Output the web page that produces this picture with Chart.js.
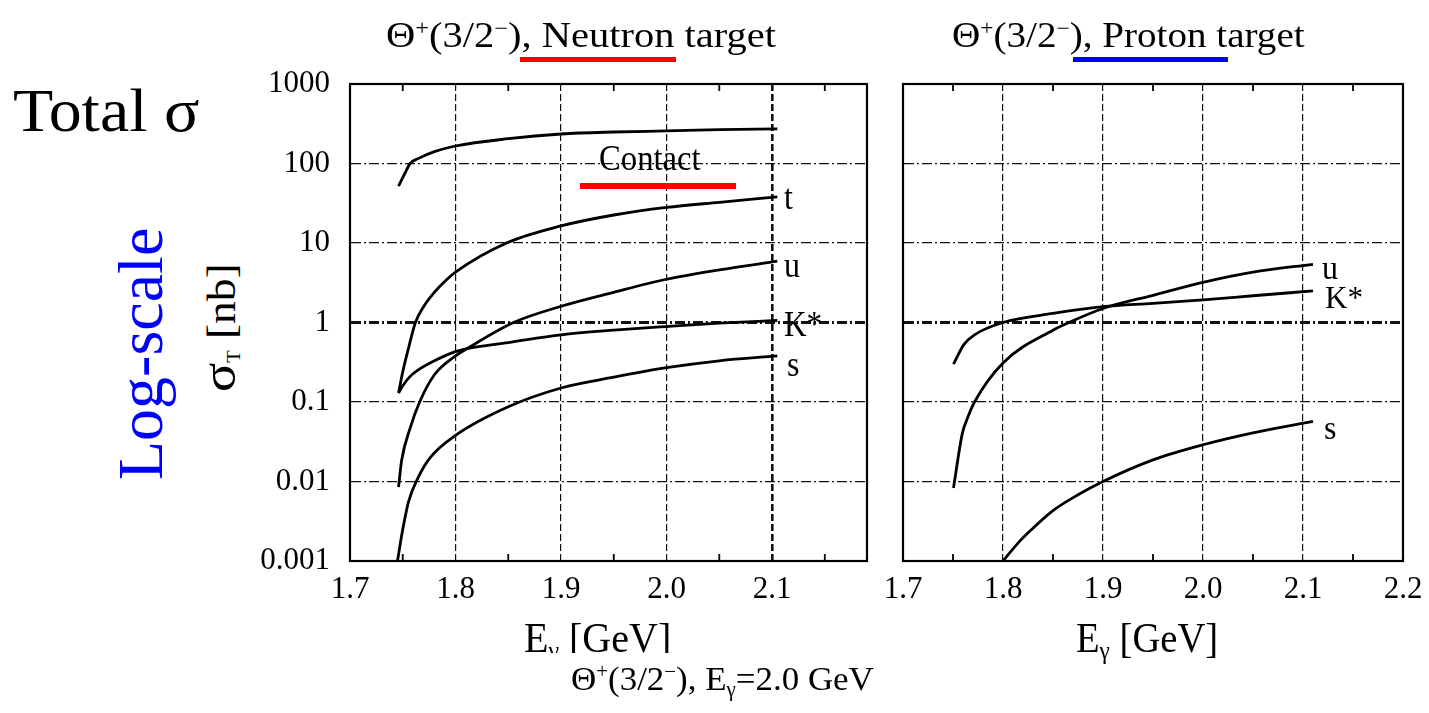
<!DOCTYPE html>
<html>
<head>
<meta charset="utf-8">
<script src="https://cdn.jsdelivr.net/npm/chart.js@4.4.1/dist/chart.umd.min.js"></script>
<style>
  html, body { margin: 0; padding: 0; background: #fff; }
  body { width: 1429px; height: 713px; position: relative; overflow: hidden;
         font-family: "Liberation Serif", "Times New Roman", serif; color: #000; }
  canvas { position: absolute; top: 0; }
  .txt { position: absolute; white-space: nowrap; line-height: 1; transform-origin: 0 0; }
  .sup { position: relative; top: -0.55em; font-size: 0.6em; }
  .sub { position: relative; top: 0.3em; font-size: 0.6em; }
  .bar { position: absolute; }
</style>
</head>
<body>
<canvas id="chartNeutron" width="630" height="713" style="left:250px"></canvas>
<canvas id="chartProton" width="563" height="713" style="left:870px"></canvas>

<div class="txt" id="totalSigma">Total σ</div>
<div class="txt" id="logScale" style="color:#0000ff">Log-scale</div>
<div class="txt" id="yTitle"><span style="font-size:1.2em">σ</span><span class="sub" style="font-size:0.45em">T</span> [nb]</div>

<div class="txt" id="titleN">Θ<span class="sup">+</span>(3/2<span class="sup">−</span>), Neutron target</div>
<div class="txt" id="titleP">Θ<span class="sup">+</span>(3/2<span class="sup">−</span>), Proton target</div>
<div class="bar" style="left:520px;top:57px;width:156px;height:5px;background:#ff0000"></div>
<div class="bar" style="left:1073px;top:57px;width:155px;height:5px;background:#0000ff"></div>

<div class="txt" id="contact">Contact</div>
<div class="bar" style="left:580px;top:183px;width:156px;height:6px;background:#ff0000"></div>

<div class="txt" id="labNt">t</div>
<div class="txt" id="labNu">u</div>
<div class="txt" id="labNk">K*</div>
<div class="txt" id="labNs">s</div>
<div class="txt" id="labPu">u</div>
<div class="txt" id="labPk">K*</div>
<div class="txt" id="labPs">s</div>

<div class="txt" id="xTitleN">E<span class="sub">γ</span> [GeV]</div>
<div class="txt" id="xTitleP">E<span class="sub">γ</span> [GeV]</div>

<div class="bar" style="left:545px;top:653px;width:345px;height:60px;background:#fff"></div>
<div class="txt" id="caption">Θ<span class="sup">+</span>(3/2<span class="sup">−</span>), E<span class="sub">γ</span>=2.0 GeV</div>

<script>
// ---------------------------------------------------------------------------
// Datos (sección eficaz total, escala log)
// ---------------------------------------------------------------------------
const yTicks = [0.001, 0.01, 0.1, 1, 10, 100, 1000];
const yTickLabels = ["0.001", "0.01", "0.1", "1", "10", "100", "1000"];
const xTicksN = [1.7, 1.8, 1.9, 2.0, 2.1];
const xTickLabelsN = ["1.7", "1.8", "1.9", "2.0", "2.1"];
const xTicksP = [1.7, 1.8, 1.9, 2.0, 2.1, 2.2];
const xTickLabelsP = ["1.7", "1.8", "1.9", "2.0", "2.1", "2.2"];
const xMinor = [1.75, 1.85, 1.95, 2.05, 2.15];

// Neutron target
const nContactE = [1.746, 1.752, 1.757, 1.765, 1.78, 1.8, 1.85, 1.9, 1.95, 2.0, 2.05, 2.105];
const nContact  = [52, 75, 100, 116, 141, 166, 205, 235, 249, 257, 266, 272];
const nTE = [1.746, 1.75, 1.755, 1.762, 1.77, 1.78, 1.79, 1.8, 1.85, 1.9, 1.95, 2.0, 2.05, 2.105];
const nT  = [0.13, 0.24, 0.45, 1.0, 1.6, 2.4, 3.3, 4.3, 10.2, 16.4, 22.5, 28, 32.5, 38];
const nUE = [1.746, 1.749, 1.757, 1.766, 1.78, 1.8, 1.811, 1.855, 1.9, 1.95, 2.0, 2.05, 2.105];
const nU  = [0.0085, 0.0186, 0.047, 0.1, 0.22, 0.38, 0.47, 1.0, 1.6, 2.4, 3.5, 4.6, 5.9];
const nKE = [1.746, 1.75, 1.757, 1.764, 1.78, 1.8, 1.811, 1.85, 1.9, 1.95, 2.0, 2.05, 2.105];
const nK  = [0.13, 0.16, 0.21, 0.25, 0.33, 0.43, 0.47, 0.56, 0.70, 0.80, 0.89, 0.98, 1.06];
const nSE = [1.745, 1.75, 1.7555, 1.765, 1.776, 1.8, 1.85, 1.9, 1.95, 2.0, 2.05, 2.105];
const nS  = [0.001, 0.0025, 0.0056, 0.0115, 0.020, 0.038, 0.087, 0.15, 0.205, 0.27, 0.33, 0.38];

// Proton target
const pUE = [1.7505, 1.7593, 1.765, 1.7715, 1.8, 1.85, 1.866, 1.9, 1.95, 2.0, 2.05, 2.11];
const pU  = [0.0083, 0.04, 0.065, 0.1, 0.31, 0.8, 1.0, 1.5, 2.2, 3.2, 4.3, 5.4];
const pKE = [1.7505, 1.761, 1.7715, 1.8, 1.85, 1.9, 1.95, 2.0, 2.05, 2.11];
const pK  = [0.30, 0.53, 0.70, 1.0, 1.3, 1.58, 1.74, 1.93, 2.17, 2.5];
const pSE = [1.8, 1.815, 1.828, 1.85, 1.875, 1.9, 1.95, 2.0, 2.05, 2.11];
const pS  = [0.001, 0.00168, 0.00245, 0.0043, 0.0068, 0.01, 0.0187, 0.029, 0.041, 0.057];

// ---------------------------------------------------------------------------
// Marco del gráfico + marcas menores hacia adentro (arriba y abajo)
// ---------------------------------------------------------------------------
const marcoPlugin = {
  id: "marco",
  afterDatasetsDraw(chart, args, opts) {
    const { ctx, chartArea: a, scales } = chart;
    ctx.save();
    ctx.strokeStyle = "#000";
    ctx.lineWidth = 1.8;
    (opts.minor || []).forEach((v) => {
      const x = scales.x.getPixelForValue(v);
      ctx.beginPath();
      ctx.moveTo(x, a.bottom); ctx.lineTo(x, a.bottom - 7);
      ctx.moveTo(x, a.top); ctx.lineTo(x, a.top + 7);
      ctx.stroke();
    });
    ctx.lineWidth = 2.2;
    ctx.strokeRect(a.left, a.top, a.right - a.left, a.bottom - a.top);
    ctx.restore();
  }
};

const fuenteTicks = { family: '"Liberation Serif", "Times New Roman", serif', size: 31 };

function curva(xs, ys) {
  return {
    data: xs.map((x, i) => ({ x: x, y: ys[i] })),
    borderColor: "#000",
    borderWidth: 2.8,
    pointRadius: 0,
    fill: false,
    cubicInterpolationMode: "monotone"
  };
}

function crearGrafico(idCanvas, datasets, cfg) {
  return new Chart(document.getElementById(idCanvas), {
    type: "line",
    data: { datasets: datasets },
    plugins: [marcoPlugin],
    options: {
      responsive: false,
      animation: false,
      devicePixelRatio: 1,
      layout: { padding: { left: 0, right: cfg.padRight, top: 84, bottom: 92 } },
      plugins: { legend: { display: false }, tooltip: { enabled: false }, marco: { minor: xMinor } },
      scales: {
        x: {
          type: "linear", min: 1.7, max: cfg.xMax, bounds: "data",
          afterBuildTicks: (s) => { s.ticks = cfg.xTicks.map((v) => ({ value: v })); },
          afterFit: (s) => { s.height = 60; },
          ticks: { callback: (v, i) => cfg.xLabels[i], font: fuenteTicks, color: "#000",
                   padding: 10, maxRotation: 0, autoSkip: false },
          grid: { drawTicks: false, color: "#111",
                  lineWidth: (c) => (c.tick && Math.abs(c.tick.value - cfg.boldX) < 1e-6) ? 2.6 : 1.2 },
          border: { display: true, color: "#000", width: 2, dash: [7, 3] }
        },
        y: {
          type: "logarithmic", min: 0.001, max: 1000,
          afterBuildTicks: (s) => { s.ticks = yTicks.map((v) => ({ value: v })); },
          afterFit: (s) => { s.width = cfg.yWidth; },
          ticks: { display: cfg.showY, callback: (v, i) => yTickLabels[i], font: fuenteTicks,
                   color: "#000", padding: 20, autoSkip: false },
          grid: { drawTicks: false, color: "#111",
                  lineWidth: (c) => (c.tick && Math.abs(c.tick.value - 1) < 1e-9) ? 3 : 1.2 },
          border: { display: true, color: "#000", width: 2, dash: [10, 3, 2, 3] }
        }
      }
    }
  });
}

crearGrafico("chartNeutron",
  [curva(nContactE, nContact), curva(nTE, nT), curva(nUE, nU), curva(nKE, nK), curva(nSE, nS)],
  { xMax: 2.19, xTicks: xTicksN, xLabels: xTickLabelsN, yWidth: 100, padRight: 13, showY: true, boldX: 2.1 });

crearGrafico("chartProton",
  [curva(pUE, pU), curva(pKE, pK), curva(pSE, pS)],
  { xMax: 2.2, xTicks: xTicksP, xLabels: xTickLabelsP, yWidth: 33, padRight: 30, showY: false, boldX: -1 });

// ---------------------------------------------------------------------------
// Textos: posición por línea base y ancho objetivo
// ---------------------------------------------------------------------------
function colocar(id, izq, base, tam, ancho, sy) {
  const el = document.getElementById(id);
  el.style.fontSize = tam + "px";
  el.style.left = izq + "px";
  el.style.top = (base - 0.8375 * tam) + "px";
  const sx = ancho ? ancho / el.offsetWidth : 1;
  el.style.transform = `scale(${sx}, ${sy || 1})`;
}

function colocarVertical(id, base, abajo, tam, largo) {
  const el = document.getElementById(id);
  el.style.fontSize = tam + "px";
  el.style.left = (base - 0.8375 * tam) + "px";
  el.style.top = abajo + "px";
  const sx = largo ? largo / el.offsetWidth : 1;
  el.style.transform = `rotate(-90deg) scaleX(${sx})`;
}

colocar("totalSigma", 13, 130.7, 62, 186);
colocarVertical("logScale", 163, 480, 64, 252);
colocarVertical("yTitle", 228, 392, 40, 129);

colocar("titleN", 386, 47, 35, 390);
colocar("titleP", 952, 47, 35, 353);
colocar("contact", 599, 169, 33, 102, 1.08);

colocar("labNt", 784, 206, 32, 0, 1.1);
colocar("labNu", 784, 274, 32, 0, 1.1);
colocar("labNk", 784, 333, 32, 38, 1.1);
colocar("labNs", 787, 373, 32, 0, 1.1);
colocar("labPu", 1322, 278, 32, 0, 1.05);
colocar("labPk", 1325, 308, 32, 38, 1.0);
colocar("labPs", 1324, 438, 32, 0, 1.05);

colocar("xTitleN", 524, 650, 40, 147, 1.05);
colocar("xTitleP", 1076, 650, 40, 142, 1.05);
colocar("caption", 571, 690, 34, 303);
</script>
</body>
</html>
